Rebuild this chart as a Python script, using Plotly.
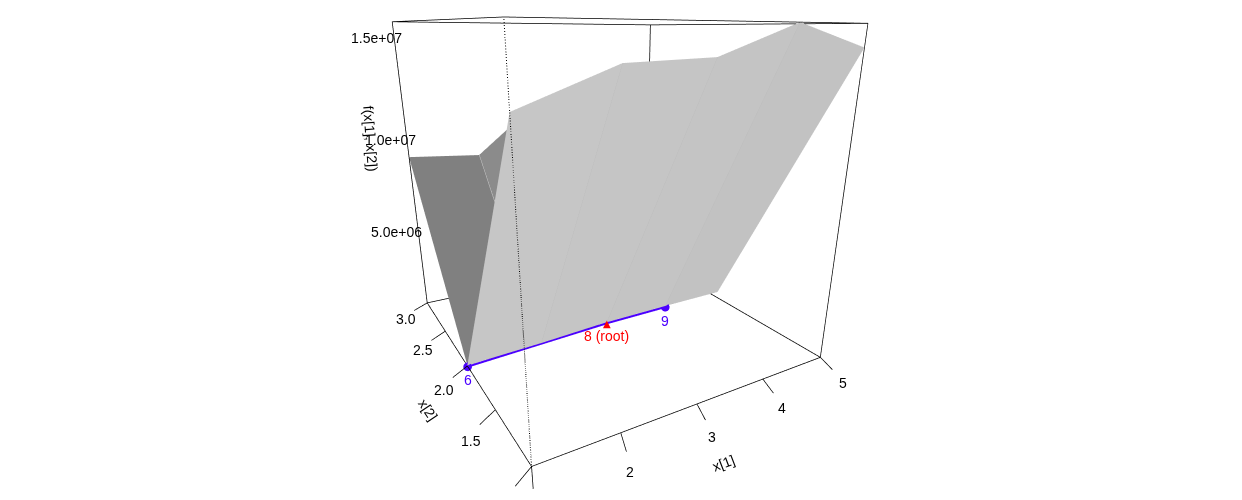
import plotly.graph_objects as go

# grid of the surface
x1_grid = [1, 2, 3, 4, 5]
x2_grid = [1, 2, 3]
z_x2_1 = [13.20e6, 14.48e6, 14.60e6, 15.77e6, 14.85e6]
z_x2_2 = [0.42e6, 0.54e6, 0.73e6, 0.76e6, 0.76e6]
z_x2_3 = [9.02e6, 8.76e6, 11.60e6, 11.40e6, 10.00e6]
z_grid = [z_x2_1, z_x2_2, z_x2_3]

z_lim = [0.39e6, 15.77e6]

# search points: 6, 8 (root), 9
path_x1 = [1, 3, 4]
path_x2 = [2, 2, 2]
path_z = [0.35e6, 0.66e6, 0.69e6]

x1_ticks = [1, 2, 3, 4, 5]
x2_ticks = [1.0, 1.5, 2.0, 2.5, 3.0]
z_ticks = [5e6, 1e7, 1.5e7]
z_labels = ["5.0e+06", "1.0e+07", "1.5e+07"]

light_strips = ["#c6c6c6", "#c5c5c5", "#c4c4c4", "#c2c2c2"]
dark_strips = ["#808080", "#8b8b8b", "#8b8b8b", "#8b8b8b"]
BLUE = "#4b00ff"
RED = "#ff0000"

xa, xb = x1_grid[0], x1_grid[-1]
ya, yb = x2_grid[0], x2_grid[-1]
za, zb = z_lim
zr = zb - za

# mesh
vx, vy, vz = [], [], []
for j, y in enumerate(x2_grid):
    for i, x in enumerate(x1_grid):
        vx.append(x)
        vy.append(y)
        vz.append(z_grid[j][i])
n = len(x1_grid)
ti, tj, tk, colors = [], [], [], []
for j in range(len(x2_grid) - 1):
    for i in range(n - 1):
        a = j * n + i
        ti += [a, a]
        tj += [a + 1, a + n + 1]
        tk += [a + n + 1, a + n]
        c = light_strips[i] if j == 0 else dark_strips[i]
        colors += [c, c]

fig = go.Figure()
fig.add_trace(go.Mesh3d(
    x=vx, y=vy, z=vz, i=ti, j=tj, k=tk, facecolor=colors, flatshading=True,
    lighting=dict(ambient=1, diffuse=0, specular=0, fresnel=0), hoverinfo="skip",
))

# creases between the facets
for i in range(1, n - 1):
    fig.add_trace(go.Scatter3d(x=[x1_grid[i]] * 2, y=x2_grid[:2], z=[z_x2_1[i], z_x2_2[i]], mode="lines",
                               line=dict(color="#b9b9b9", width=1), hoverinfo="skip"))
fig.add_trace(go.Scatter3d(x=[x1_grid[1]] * 2, y=x2_grid[1:], z=[z_x2_2[1], z_x2_3[1]], mode="lines",
                           line=dict(color="#cccccc", width=1.5), hoverinfo="skip"))

# box
box_x, box_y, box_z = [], [], []
edges = [
    ((xa, ya, za), (xb, ya, za)), ((xb, ya, za), (xb, yb, za)), ((xb, yb, za), (xa, yb, za)), ((xa, yb, za), (xa, ya, za)),
    ((xa, ya, zb), (xb, ya, zb)), ((xb, ya, zb), (xb, yb, zb)), ((xb, yb, zb), (xa, yb, zb)), ((xa, yb, zb), (xa, ya, zb)),
    ((xb, ya, za), (xb, ya, zb)), ((xb, yb, za), (xb, yb, zb)), ((xa, yb, za), (xa, yb, zb)),
]
# tick marks
for t in x1_ticks:
    edges.append(((t, ya, za), (t - 0.1, ya - 0.135, za)))
for t in x2_ticks:
    edges.append(((xa, t, za), (xa - 0.23, t - 0.08, za)))
for p, q in edges:
    box_x += [p[0], q[0], None]
    box_y += [p[1], q[1], None]
    box_z += [p[2], q[2], None]
fig.add_trace(go.Scatter3d(x=box_x, y=box_y, z=box_z, mode="lines", line=dict(color="black", width=1.5), hoverinfo="skip"))
fig.add_trace(go.Scatter3d(x=[xa, xa], y=[ya, ya], z=[za, zb], mode="lines",
                           line=dict(color="black", width=2, dash="dot"), hoverinfo="skip"))

# search path
fig.add_trace(go.Scatter3d(x=path_x1, y=path_x2, z=path_z, mode="lines", line=dict(color=BLUE, width=4), hoverinfo="skip"))
fig.add_trace(go.Scatter3d(x=[path_x1[0], path_x1[2]], y=[path_x2[0], path_x2[2]], z=[path_z[0], path_z[2]], mode="markers",
                           marker=dict(color=BLUE, size=5, line=dict(width=0)), hoverinfo="skip"))

font = dict(family="Liberation Sans, Helvetica, Arial", size=14, color="black")
notes = []
for t in x1_ticks:
    notes.append(dict(x=t - 0.22, y=0.74, z=za, text=str(t)))
for t in x2_ticks:
    notes.append(dict(x=0.61, y=t - 0.18, z=za, text=f"{t:.1f}"))
for t, s, off in zip(z_ticks, z_labels, [0.70, 0.78, 0.78]):
    notes.append(dict(x=off, y=yb, z=t, text=s))
notes.append(dict(x=2.64, y=0.57, z=za, text="x[1]", textangle=-21))
notes.append(dict(x=0.36, y=1.68, z=za, text="x[2]", textangle=56))
notes.append(dict(x=0.54, y=yb, z=za + 0.635 * zr, text="f(x[1], x[2])", textangle=86))
for a in notes:
    a.update(showarrow=False, font=font)
for x, y, z, s, c, shift in zip(path_x1, path_x2, path_z, ["6", "8 (root)", "9"], [BLUE, RED, BLUE], [-13, -13, -14]):
    notes.append(dict(x=x, y=y, z=z, text=s, showarrow=False, yshift=shift, font=dict(font, color=c)))
notes.append(dict(x=path_x1[1], y=path_x2[1], z=path_z[1], text="▲", showarrow=False,
                  font=dict(family="DejaVu Sans", size=10, color=RED)))

k = 2.0
hidden = dict(visible=False)
fig.update_layout(
    width=1242, height=510, margin=dict(l=0, r=0, t=0, b=0),
    paper_bgcolor="white", showlegend=False,
    scene=dict(
        # the page body sits 8px in from the window edge
        domain=dict(x=[0, 1233 / 1242], y=[26 / 510, 1]),
        xaxis=dict(hidden, range=[3 - 2 * k, 3 + 2 * k]),
        yaxis=dict(hidden, range=[2 - k, 2 + k]),
        zaxis=dict(hidden, range=[(za + zb) / 2 - k * zr / 2, (za + zb) / 2 + k * zr / 2]),
        aspectmode="manual",
        aspectratio=dict(x=k, y=1.0454 * k, z=1.0088 * k),
        camera=dict(
            eye=dict(x=-0.8947, y=-1.6109, z=0.4833),
            center=dict(x=-0.0303, y=-0.1691, z=-0.149),
            up=dict(x=0.0627, y=0.1173, z=1),
            projection=dict(type="perspective"),
        ),
        annotations=notes,
    ),
)
fig.write_html("out.html")
